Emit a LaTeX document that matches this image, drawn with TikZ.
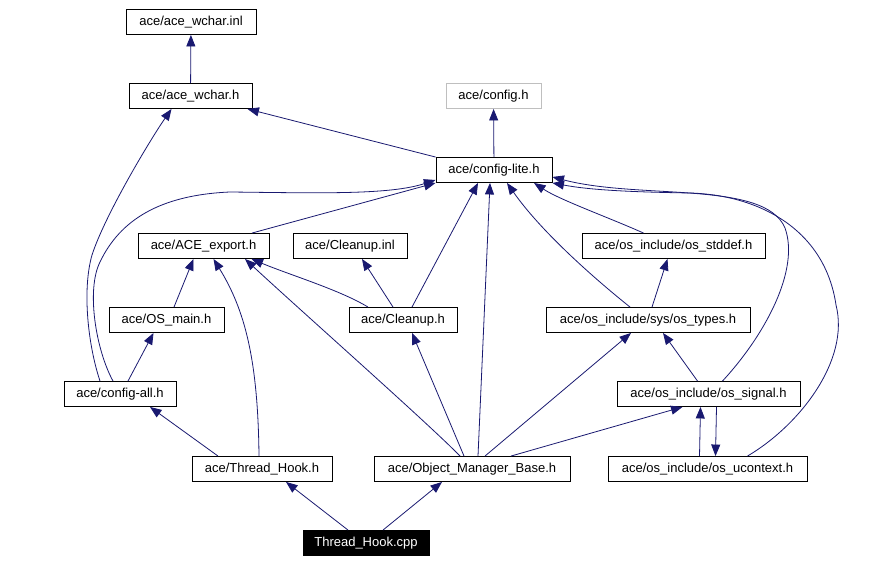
\documentclass[tikz,border=0pt]{standalone}
\usepackage{fontspec}
\setmainfont{Liberation Sans}
\usetikzlibrary{arrows.meta}
\definecolor{depblue}{HTML}{191970}
\tikzset{
  file/.style={draw, line width=0.9pt, minimum height=25pt, inner sep=0pt, font=\fontsize{13}{15}\selectfont},
  extfile/.style={file, draw=black!25},
  mainfile/.style={file, fill=black, text=white},
  dep/.style={depblue, line width=0.8pt, -{Triangle[length=11.5pt,width=9pt]}}
}

\begin{document}
\begin{tikzpicture}[x=1pt,y=-1pt]
\useasboundingbox (0,0) rectangle (874,564);

\node[file, minimum width=130pt] (wcharinl) at (191,22) {ace/ace\_wchar.inl};
\node[file, minimum width=123pt] (wcharh) at (190.5,96) {ace/ace\_wchar.h};
\node[extfile, minimum width=95pt] (config) at (493.5,96) {ace/config.h};
\node[file, minimum width=116pt] (configlite) at (494,170) {ace/config-lite.h};
\node[file, minimum width=131pt] (aceexport) at (203.5,246) {ace/ACE\_export.h};
\node[file, minimum width=114pt] (cleanupinl) at (350,246) {ace/Cleanup.inl};
\node[file, minimum width=183pt] (osstddef) at (673.5,246) {ace/os\_include/os\_stddef.h};
\node[file, minimum width=115pt] (osmain) at (166.5,320) {ace/OS\_main.h};
\node[file, minimum width=108pt] (cleanuph) at (403,320) {ace/Cleanup.h};
\node[file, minimum width=204pt] (ostypes) at (648,320) {ace/os\_include/sys/os\_types.h};
\node[file, minimum width=112pt] (configall) at (120,394) {ace/config-all.h};
\node[file, minimum width=183pt] (ossignal) at (708.5,394) {ace/os\_include/os\_signal.h};
\node[file, minimum width=140pt] (threadhookh) at (262,469) {ace/Thread\_Hook.h};
\node[file, minimum width=196pt] (omb) at (472,469) {ace/Object\_Manager\_Base.h};
\node[file, minimum width=199pt] (osucontext) at (707.5,469) {ace/os\_include/os\_ucontext.h};
\node[mainfile, minimum width=126pt] (cpp) at (366,543) {Thread\_Hook.cpp};

\draw[dep] (wcharh) -- (wcharinl);
\draw[dep] (configlite.north west) -- ([xshift=-5pt]wcharh.south east);
\draw[dep] ([xshift=-20pt]configall.north) .. controls (88,345) and (82,290) .. (92,255)
  .. controls (105,215) and (150,140) .. ([xshift=-19pt]wcharh.south);
\draw[dep] (configlite) -- (config);

\draw[dep] ([xshift=-7pt]configall.north) .. controls (96,350) and (86,290) .. (100,262)
  .. controls (120,220) and (160,195) .. (230,192)
  .. controls (320,193) and (390,195) .. ([yshift=3pt]configlite.south west);
\draw[dep] ([xshift=48.5pt]aceexport.north) -- (configlite.south west);
\draw[dep] ([xshift=9pt]cleanuph.north) -- ([xshift=-16pt]configlite.south);
\draw[dep] ([xshift=6pt]omb.north) -- ([xshift=-4pt]configlite.south);
\draw[dep] ([xshift=-18pt]ostypes.north) .. controls (590,275) and (540,230) .. ([xshift=13pt]configlite.south);
\draw[dep] ([xshift=-30pt]osstddef.north) .. controls (610,218) and (560,200) .. ([xshift=40pt]configlite.south);
\draw[dep] ([xshift=14pt]ossignal.north) .. controls (765,335) and (800,270) .. (785,228)
  .. controls (765,180) and (640,200) .. ([yshift=6pt]configlite.south east);
\draw[dep] ([xshift=40pt]osucontext.north) .. controls (800,425) and (850,360) .. (836,305)
  .. controls (825,230) and (760,195) .. (690,193)
  .. controls (630,192) and (590,190) .. (configlite.south east);

\draw[dep] ([xshift=7.5pt]osmain.north) -- ([xshift=-10pt]aceexport.south);
\draw[dep] ([xshift=-3pt]threadhookh.north) .. controls (258,360) and (245,310) .. ([xshift=10pt]aceexport.south);
\draw[dep] ([xshift=-12pt]omb.north) .. controls (430,425) and (300,310) .. ([xshift=41.5pt]aceexport.south);
\draw[dep] ([xshift=-35pt]cleanuph.north) .. controls (340,290) and (290,275) .. ([xshift=48pt]aceexport.south);
\draw[dep] ([xshift=-10pt]cleanuph.north) -- ([xshift=12pt]cleanupinl.south);
\draw[dep] ([xshift=8pt]configall.north) -- ([xshift=-13pt]osmain.south);
\draw[dep] ([xshift=-44pt]threadhookh.north) -- ([xshift=30pt]configall.south);
\draw[dep] ([xshift=-8pt]omb.north) -- ([xshift=9pt]cleanuph.south);
\draw[dep] ([xshift=13pt]omb.north) -- ([xshift=-17pt]ostypes.south);
\draw[dep] ([xshift=39pt]omb.north) -- ([xshift=-26pt]ossignal.south);
\draw[dep] ([xshift=-11pt]ossignal.north) -- ([xshift=15pt]ostypes.south);
\draw[dep] ([xshift=4pt]ostypes.north) -- ([xshift=-6pt]osstddef.south);
\draw[dep] ([xshift=8pt]ossignal.south) -- ([xshift=8pt]osucontext.north);
\draw[dep] ([xshift=-8pt]osucontext.north) -- ([xshift=-8pt]ossignal.south);
\draw[dep] ([xshift=-18pt]cpp.north) -- ([xshift=24pt]threadhookh.south);
\draw[dep] ([xshift=17pt]cpp.north) -- ([xshift=-30pt]omb.south);
\end{tikzpicture}
\end{document}
